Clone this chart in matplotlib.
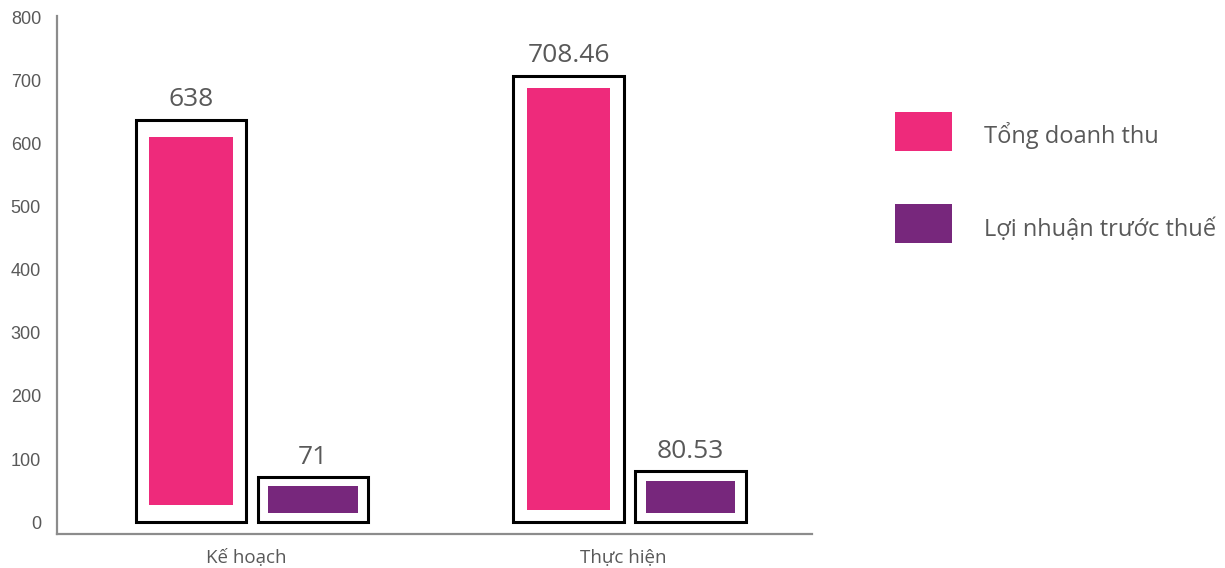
import matplotlib
matplotlib.use("Agg")
import matplotlib.pyplot as plt
import numpy as np
from matplotlib.patches import Rectangle

categories = ["Kế hoạch", "Thực hiện"]
series_names = ["Tổng doanh thu", "Lợi nhuận trước thuế"]
revenue = [638, 708.46]
profit = [71, 80.53]
yticks = [0, 100, 200, 300, 400, 500, 600, 700, 800]

PINK = "#EE2A7B"
PURPLE = "#77277C"
TXT = "#595959"
AX = "#8C8C8C"

W, H = 1225, 568
fig = plt.figure(figsize=(W/100, H/100), dpi=100)
ax = fig.add_axes([57/W, 1-534/H, (812-57)/W, (534-16)/H])

x = np.arange(len(categories))
w = 0.292
offsets = [-0.145, 0.178]
# inner-fill insets (style): vertical in data units per bar, horizontal in axis units
insets_v = [[27, 19], [14, 15]]
insets_h = [0.036, 0.027]
colors = [PINK, PURPLE]

for vals, off, iv, ih, col in zip([revenue, profit], offsets, insets_v, insets_h, colors):
    vals = np.array(vals, dtype=float)
    iv = np.array(iv, dtype=float)
    ax.bar(x + off, vals, width=w, facecolor="white", edgecolor="black",
           linewidth=2.2, zorder=2)
    ax.bar(x + off, vals - 2*iv, bottom=iv, width=w - 2*ih, color=col,
           linewidth=0, zorder=3)
    for xi, v in zip(x + off, vals):
        ax.annotate(f"{v:g}", (xi, v), xytext=(0, 5.5), textcoords="offset points",
                    ha="center", va="bottom", fontsize=19, color=TXT,
                    family="Open Sans")

ax.set_xlim(-0.5, 1.5)
ax.set_ylim(-19, 803)
ax.set_yticks(yticks)
ax.set_yticklabels([str(t) for t in yticks], family="Liberation Sans",
                   fontsize=13, color=TXT)
ax.set_xticks(x)
ax.set_xticklabels(categories, family="Open Sans", fontsize=13.5, color=TXT)
ax.tick_params(axis="y", length=0, pad=11.5)
ax.tick_params(axis="x", length=0, pad=11)
for s in ["top", "right"]:
    ax.spines[s].set_visible(False)
for s in ["left", "bottom"]:
    ax.spines[s].set_color(AX)
    ax.spines[s].set_linewidth(1.6)

# legend drawn manually (pixel placement)
leg_rows = [(112, 151, 143), (204, 243, 236.5)]
for name, col, (y0, y1, yb) in zip(series_names, colors, leg_rows):
    fig.add_artist(Rectangle((895/W, 1-y1/H), (952-895)/W, (y1-y0)/H,
                             transform=fig.transFigure, facecolor=col,
                             edgecolor="none"))
    fig.text(984/W, 1-yb/H, name, ha="left", va="baseline",
             family="Open Sans", fontsize=17, color=TXT)

fig.savefig("out.png", dpi=100)
